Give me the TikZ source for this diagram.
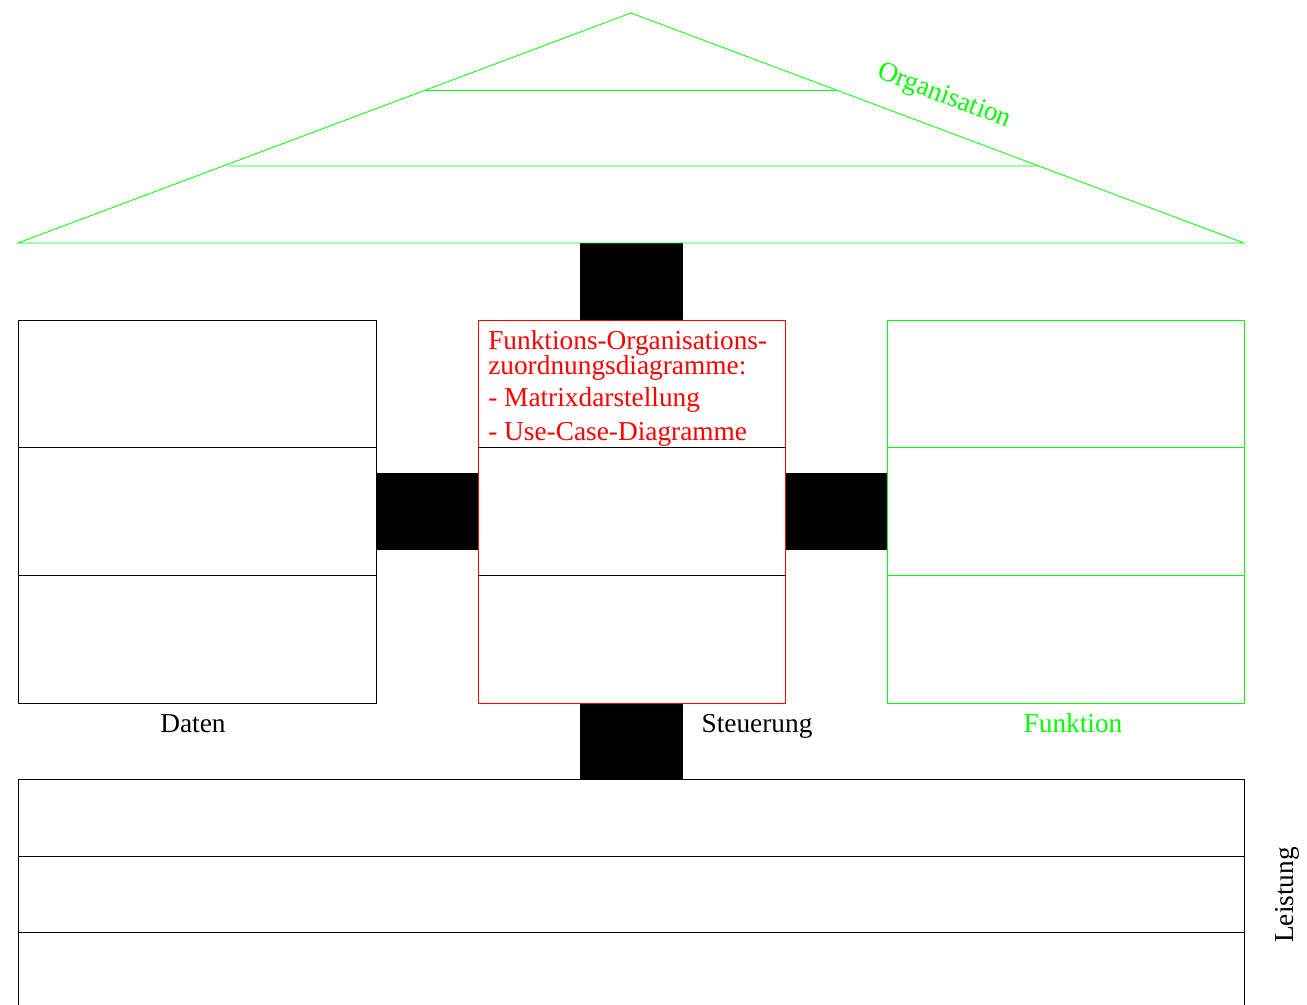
\documentclass[tikz,border=0pt]{standalone}
\usepackage{fontspec}
\setmainfont{Liberation Serif}
\usetikzlibrary{calc}
\definecolor{hgreen}{RGB}{0,255,0}
\definecolor{hred}{RGB}{255,0,0}
\begin{document}
\begin{tikzpicture}[x=0.75pt,y=-0.75pt,
  frame/.style={line width=0.6pt},
  block/.style={fill=black,draw=none},
  lbl/.style={font=\fontsize{20.5}{24}\selectfont,inner sep=0pt},
  redline/.style={lbl,text=hred,anchor=base west}]
\useasboundingbox (0,0) rectangle (1307,1005);

% connecting blocks
\fill[block] (580,243) rectangle (683,320);
\fill[block] (376,473) rectangle (478,550);
\fill[block] (785,473) rectangle (887,550);
\fill[block] (580,703) rectangle (683,779);

% roof
\coordinate (apex) at (631,13);
\coordinate (bl) at (18,243);
\coordinate (br) at (1244,243);
\draw[frame,hgreen] (bl) -- (apex) -- (br) -- cycle;
\draw[frame,hgreen] (228,166) -- ($(br)!0.335!(apex)$);
\draw[frame,hgreen] ($(bl)!0.665!(apex)$) -- ($(br)!0.665!(apex)$);
\node[lbl,text=hgreen,rotate=-20.6] (org) at (944,97) {Organisation};

% Daten
\draw[frame] (18,320) rectangle (376,703);
\draw[frame] (18,447) -- (376,447);
\draw[frame] (18,575) -- (376,575);
\node[lbl,anchor=base] (daten) at (193,732) {Daten};

% Steuerung
\draw[frame] (478,447) -- (785,447);
\draw[frame] (478,575) -- (785,575);
\draw[frame,hred] (478,320) rectangle (785,703);
\node[redline] (s1) at (488,350) {Funktions-Organisations-};
\node[redline] (s2) at (488,375) {zuordnungsdiagramme:};
\node[redline] (s3) at (488,407) {- Matrixdarstellung};
\node[redline] (s4) at (488,441) {- Use-Case-Diagramme};
\node[lbl,anchor=base] (steu) at (757,732) {Steuerung};

% Funktion
\draw[frame,hgreen] (887,320) rectangle (1244,703);
\draw[frame,hgreen] (887,447) -- (1244,447);
\draw[frame,hgreen] (887,575) -- (1244,575);
\node[lbl,anchor=base,text=hgreen] (fkt) at (1073,732) {Funktion};

% Leistung
\draw[frame] (18,1010) -- (18,779) -- (1244,779) -- (1244,1010);
\draw[frame] (18,856) -- (1244,856);
\draw[frame] (18,932) -- (1244,932);
\node[lbl,rotate=90] (leist) at (1287,895) {Leistung};
\end{tikzpicture}
\end{document}
